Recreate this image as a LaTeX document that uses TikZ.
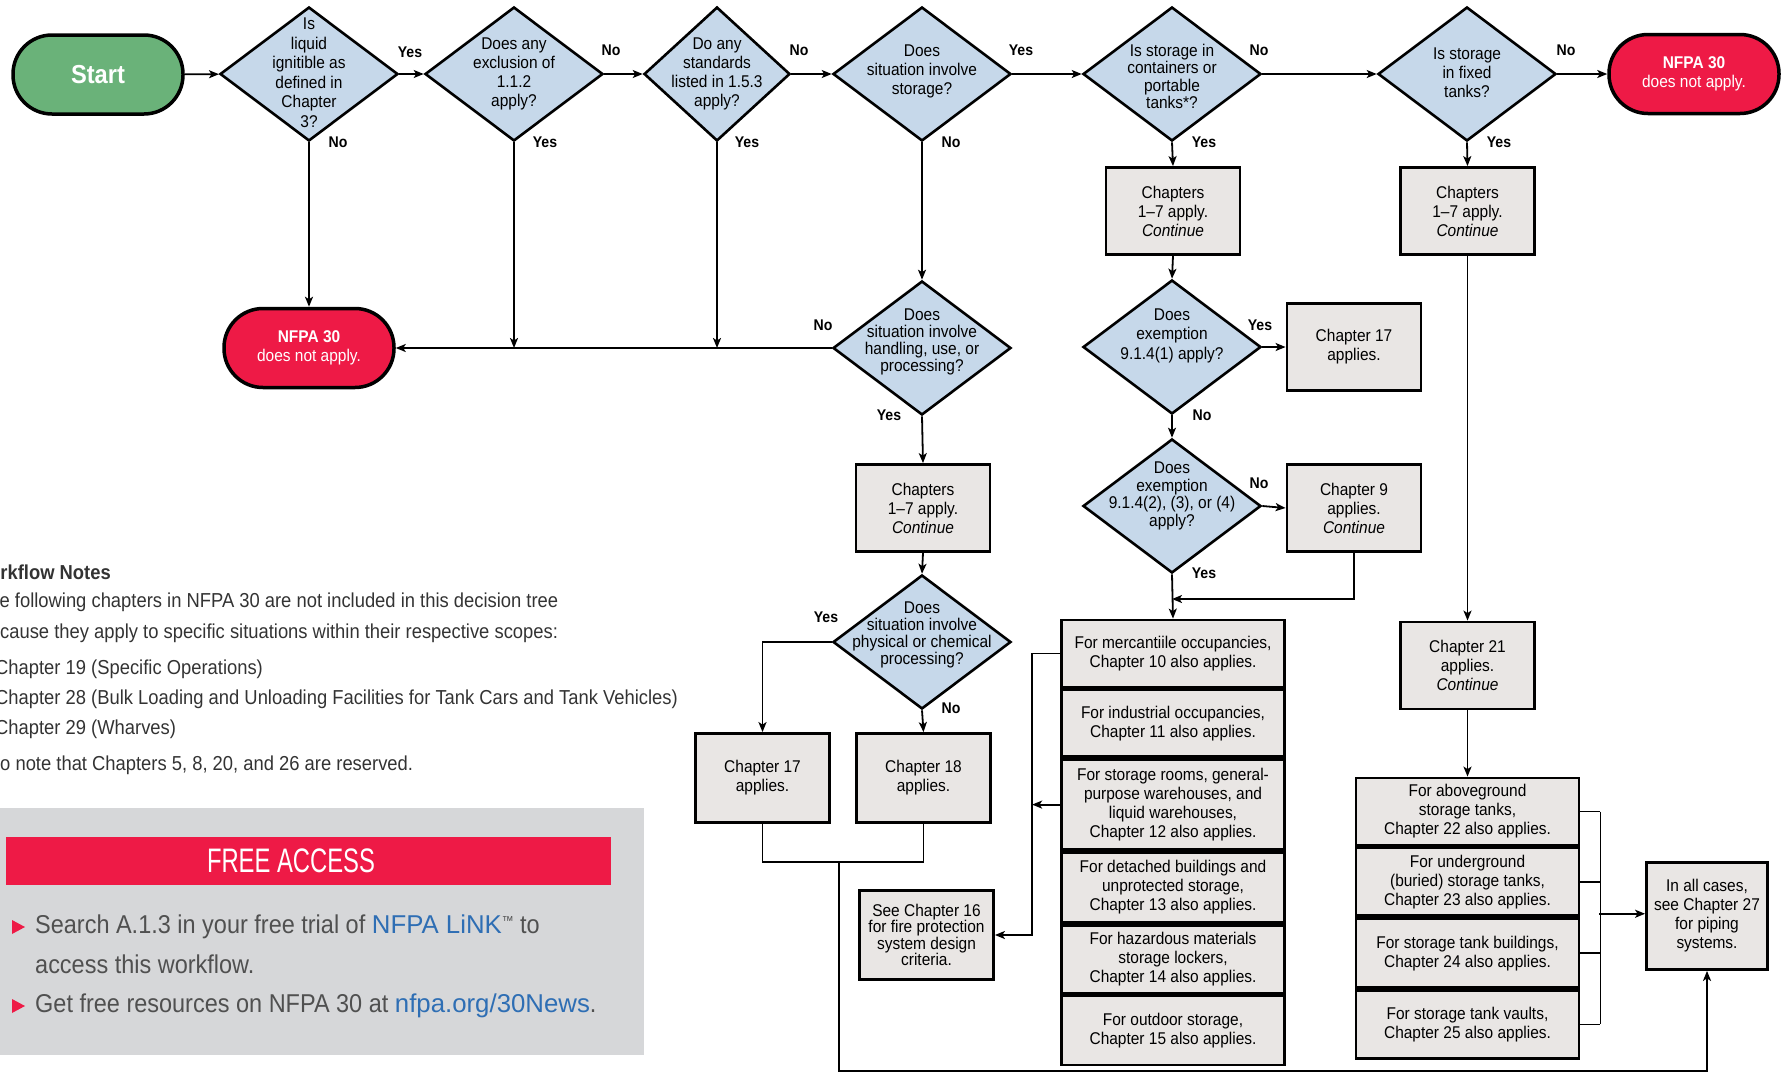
\documentclass[tikz,border=0pt]{standalone}
\usepackage{fontspec}
\setmainfont{Liberation Sans}[FakeStretch=0.91]
\newfontfamily\condfont{Liberation Sans}[FakeStretch=0.7]
\newfontfamily\linkfont{Liberation Sans}[FakeStretch=1.0]
\usetikzlibrary{shapes.geometric, arrows.meta, positioning}
\definecolor{sgreen}{HTML}{6AB279}
\definecolor{nred}{HTML}{EE1A46}
\definecolor{qblue}{HTML}{C6D8EA}
\definecolor{boxgray}{HTML}{E9E6E4}
\definecolor{panelgray}{HTML}{D6D7D9}
\definecolor{linkblue}{HTML}{2E6EB4}
\definecolor{notegray}{HTML}{333333}
\definecolor{textgray}{HTML}{505050}
\tikzstyle{term}=[rectangle, rounded corners=39pt, minimum width=170, minimum height=79, line width=3.5pt, draw, align=center, text=white, font=\fontsize{17}{19}\selectfont]
\tikzstyle{decision}=[diamond, draw, line width=2.6pt, fill=qblue, minimum width=178, minimum height=134, inner sep=0pt]
\tikzstyle{proc}=[rectangle, draw, line width=2.8pt, fill=boxgray, minimum width=134, minimum height=87, align=center, inner sep=1pt]
\tikzstyle{stackbox}=[proc, minimum width=223]
\tikzstyle{lab}=[font=\bfseries\fontsize{15.5}{18}\selectfont, inner sep=0pt]
\tikzstyle{note}=[anchor=west, inner sep=0pt, text=notegray, font=\fontsize{20.2}{22}\selectfont]
\tikzstyle{bul}=[anchor=west, inner sep=0pt, text=textgray, font=\fontsize{25.8}{28}\selectfont]
\tikzstyle{flow}=[line width=1.8pt, -{Stealth[length=10pt,width=8pt,inset=2.5pt]}]
\tikzstyle{link}=[line width=1.8pt]
\newcommand{\qtext}[3]{\makebox[0pt]{\smash{\raisebox{-5pt}{\raisebox{#2pt}{\fontsize{17}{#1}\selectfont\begin{tabular}[c]{@{}c@{}}#3\end{tabular}}}}}}
\newcommand{\weblink}[1]{\textcolor{linkblue}{\linkfont #1}}
\newcommand{\tmark}{\raisebox{8pt}{\fontsize{13}{13}\selectfont ™}}

\begin{document}
\begin{tikzpicture}[x=1pt, y=-1pt, font=\fontsize{17}{19}\selectfont]
\useasboundingbox (0,0) rectangle (1783,1074);
\clip (0,0) rectangle (1783,1074);

\node[term, fill=sgreen] (start) at (98,74.5) {\fontsize{26}{28}\selectfont\bfseries Start};
\node[decision] (d1) at (309,74) {\qtext{19.5}{0}{Is\\liquid\\ignitible as\\defined in\\Chapter\\3?}};
\node[decision] (d2) at (514,74) {\qtext{19}{0}{Does any\\exclusion of\\1.1.2\\apply?}};
\node[decision, minimum width=146] (d3) at (717,74) {\qtext{19}{0}{Do any\\standards\\listed in 1.5.3\\apply?}};
\node[decision] (d4) at (922,74) {\qtext{19}{3}{Does\\situation involve\\storage?}};
\node[decision] (d5) at (1172,74) {\qtext{16.5}{-4}{Is storage in\\containers or\\portable\\tanks*?}};
\node[decision] (d6) at (1467,74) {\qtext{19}{0}{Is storage\\in fixed\\tanks?}};
\node[term, fill=nred] (na2) at (1694,74) {\textbf{NFPA 30}\\does not apply.};
\node[term, fill=nred] (na1) at (309,348) {\textbf{NFPA 30}\\does not apply.};

\node[decision] (d7) at (922,348) {\qtext{16.5}{6}{Does\\situation involve\\handling, use, or\\processing?}};
\node[proc] (c3) at (923,508) {Chapters\\1–7 apply.\\\textit{Continue}};
\node[decision] (d8) at (922,642) {\qtext{16.5}{7}{Does\\situation involve\\physical or chemical\\processing?}};
\node[proc, minimum height=89] (x17) at (762.5,778) {Chapter 17\\applies.};
\node[proc, minimum height=89] (x18) at (923.5,778) {Chapter 18\\applies.};
\node[proc, minimum height=89, font=\fontsize{17}{16.5}\selectfont] (x16) at (926.5,935) {See Chapter 16\\for fire protection\\system design\\criteria.};

\node[proc] (c1) at (1173,211) {Chapters\\1–7 apply.\\\textit{Continue}};
\node[decision] (d9) at (1172,347) {\qtext{19.5}{12}{Does\\exemption\\9.1.4(1) apply?}};
\node[proc] (x17r) at (1354,347) {Chapter 17\\applies.};
\node[decision] (d10) at (1172,506) {\qtext{17.5}{10}{Does\\exemption\\9.1.4(2), (3), or (4)\\apply?}};
\node[proc] (x9) at (1354,508) {Chapter 9\\applies.\\\textit{Continue}};
\node[stackbox, minimum height=67] (s1) at (1173,653.5) {For mercantiile occupancies,\\Chapter 10 also applies.};
\node[stackbox, minimum height=67, below=0pt of s1] (s2) {For industrial occupancies,\\Chapter 11 also applies.};
\node[stackbox, minimum height=90, below=0pt of s2] (s3) {For storage rooms, general-\\purpose warehouses, and\\liquid warehouses,\\Chapter 12 also applies.};
\node[stackbox, minimum height=70, below=0pt of s3] (s4) {For detached buildings and\\unprotected storage,\\Chapter 13 also applies.};
\node[stackbox, minimum height=68, below=0pt of s4] (s5) {For hazardous materials\\storage lockers,\\Chapter 14 also applies.};
\node[stackbox, minimum height=69, below=0pt of s5] (s6) {For outdoor storage,\\Chapter 15 also applies.};

\node[proc] (c2) at (1467.5,211) {Chapters\\1–7 apply.\\\textit{Continue}};
\node[proc] (x21) at (1467.5,665.5) {Chapter 21\\applies.\\\textit{Continue}};
\node[stackbox, minimum height=67] (t1) at (1467.5,811.5) {For aboveground\\storage tanks,\\Chapter 22 also applies.};
\node[stackbox, minimum height=68, below=0pt of t1] (t2) {For underground\\(buried) storage tanks,\\Chapter 23 also applies.};
\node[stackbox, minimum height=69, below=0pt of t2] (t3) {For storage tank buildings,\\Chapter 24 also applies.};
\node[stackbox, minimum height=68, below=0pt of t3] (t4) {For storage tank vaults,\\Chapter 25 also applies.};
\node[proc, minimum width=121, minimum height=107] (allc) at (1707,916) {In all cases,\\see Chapter 27\\for piping\\systems.};

\foreach \n/\x/\y/\t in {l1/410/52/Yes, l2/338/142/No, l3/611/50/No, l4/545/142/Yes, l5/799/50/No, l6/747/142/Yes, l7/1021/50/Yes, l8/951/142/No, l9/1259/50/No, l10/1204/142/Yes, l11/1566/50/No, l12/1499/142/Yes, l13/823/325/No, l14/889/415/Yes, l15/1260/325/Yes, l16/1202/415/No, l17/1259/483/No, l18/1204/573/Yes, l19/826/617/Yes, l20/951/708/No}
  \node[lab] (\n) at (\x,\y) {\t};

\draw[flow] (start) -- (d1);
\foreach \a/\b in {d1/d2, d2/d3, d3/d4, d4/d5, d5/d6, d6/na2}
  \draw[flow] (\a.east) -- (\b.west);
\draw[flow] (d1.south) -- (na1.north);
\draw[flow] (d7.west) -- (na1.east);
\draw[flow] (d2.south) -- (d2.south |- na1.east);
\draw[flow] (d3.south) -- (d3.south |- na1.east);
\foreach \a/\b in {d4/d7, d7/c3, c3/d8, d8/x18, d5/c1, c1/d9, d9/d10, d10/s1, d6/c2, c2/x21, x21/t1}
  \draw[flow] (\a.south) -- (\b.north);
\draw[flow] (d8.west) -| (x17.north);
\draw[flow] (d9.east) -- (x17r.west);
\draw[flow] (d10.east) -- (x9.west);
\coordinate (j9) at (1172,599);
\draw[flow] (x9.south) |- (j9);
\draw[flow] (s1.west) -- ++(-28,0) |- (x16.east);
\draw[flow] (s3.west) -- ++(-28,0);
\coordinate (mrg) at (839,862);
\coordinate (bot) at (839,1071);
\draw[link] (x17.south) |- (mrg) -| (x18.south);
\draw[flow] (mrg) -- (bot) -| (allc.south);
\foreach \t in {t1,t2,t3,t4}
  \draw[link] (\t.east) -- ++(20,0);
\draw[link] ([xshift=20pt]t1.east) -- ([xshift=20pt]t4.east);
\coordinate (brk) at (1599,913.75);
\draw[flow] (brk) -- (brk -| allc.west);

\node[note, font=\bfseries\fontsize{20.2}{22}\selectfont] (nt0) at (-28,572) {Workflow Notes};
\node[note] (nt1) at (-22,602) {The following chapters in NFPA 30 are not included in this decision tree};
\node[note] (nt2) at (-20.5,633) {because they apply to specific situations within their respective scopes:};
\node[note] (nt3) at (-5,669) {Chapter 19 (Specific Operations)};
\node[note] (nt4) at (-5,699) {Chapter 28 (Bulk Loading and Unloading Facilities for Tank Cars and Tank Vehicles)};
\node[note] (nt5) at (-5,729) {Chapter 29 (Wharves)};
\node[note] (nt6) at (-25.5,765) {Also note that Chapters 5, 8, 20, and 26 are reserved.};

\fill[panelgray] (0,808) rectangle (644,1055);
\node[fill=nred, minimum width=605, minimum height=48, inner sep=0pt] (banner) at (308.5,861) {};
\node[text=white, font=\condfont\fontsize{34}{36}\selectfont, inner sep=0pt] (fatext) at (291,861) {FREE ACCESS};
\fill[nred] (12,920) -- (25,927) -- (12,934) -- cycle;
\fill[nred] (12,999) -- (25,1006) -- (12,1013) -- cycle;
\node[bul] (b1) at (35,927) {Search A.1.3 in your free trial of \weblink{NFPA LiNK}\tmark{} to};
\node[bul] (b1b) at (35,964) {access this workflow.};
\node[bul] (b2) at (35,1006) {Get free resources on NFPA 30 at \weblink{nfpa.org/30News}.};
\end{tikzpicture}
\end{document}
